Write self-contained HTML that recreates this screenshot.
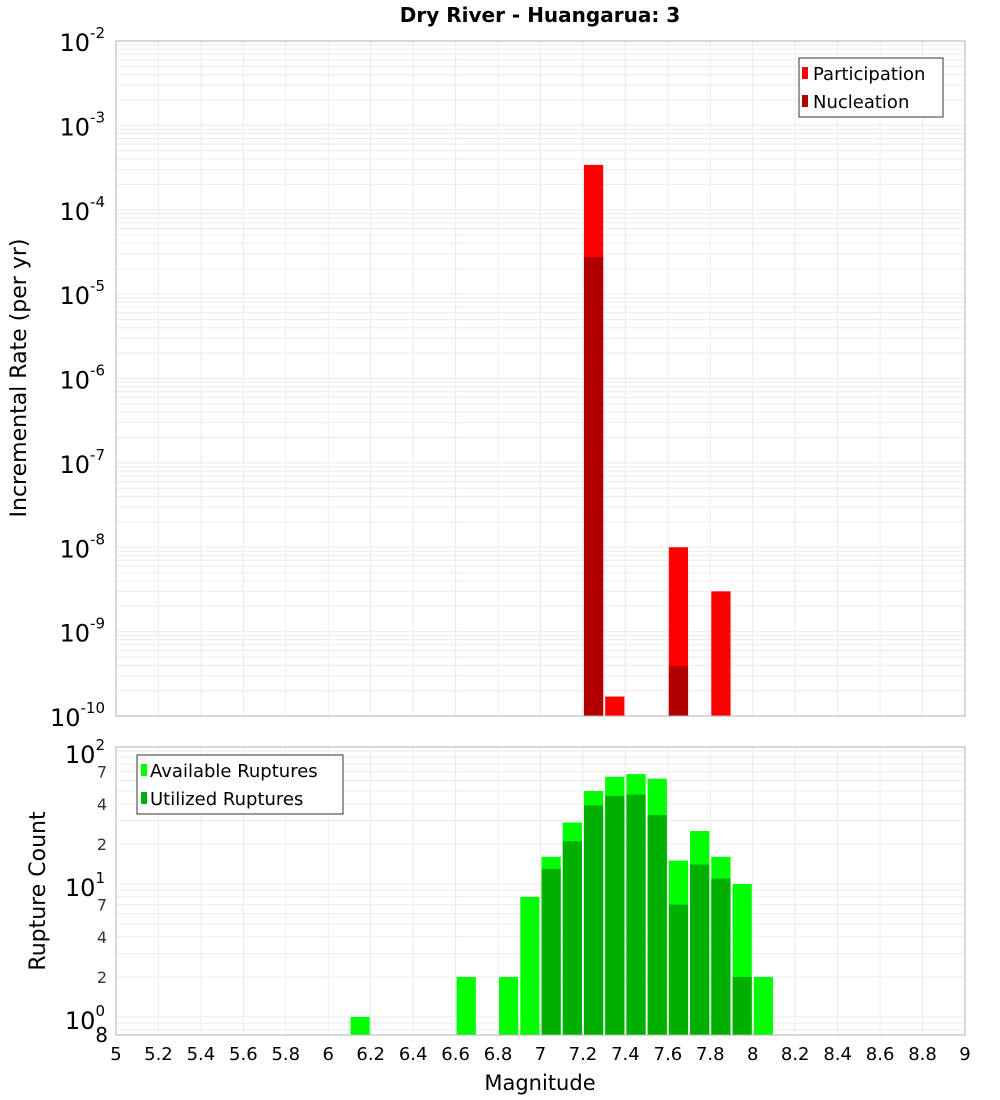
<!DOCTYPE html>
<html><head><meta charset="utf-8"><style>
body{margin:0;background:#fff;font-family:"Liberation Sans",sans-serif}
svg{display:block}
text{font-family:"DejaVu Sans","Liberation Sans",sans-serif}
</style></head><body>
<svg id="chart" width="1000" height="1100" xmlns="http://www.w3.org/2000/svg">
<text x="540" y="22" text-anchor="middle" font-size="20" font-weight="bold">Dry River - Huangarua: 3</text>
<g id="topG"></g><g id="botG"></g>
<text transform="translate(26,378) rotate(-90)" text-anchor="middle" font-size="22">Incremental Rate (per yr)</text>
<text transform="translate(45,891) rotate(-90)" text-anchor="middle" font-size="22">Rupture Count</text>
<text x="540" y="1090" text-anchor="middle" font-size="21">Magnitude</text>
</svg>
<script>
const rateMags=[7.25,7.35,7.65,7.85];
const participation=[3.4e-4,1.7e-10,1e-8,3e-9];
const nucleation=[2.75e-5,0,3.9e-10,0];
const countMags=[6.15,6.65,6.85,6.95,7.05,7.15,7.25,7.35,7.45,7.55,7.65,7.75,7.85,7.95,8.05];
const available=[1,2,2,8,16,29,50,64,67,62,15,25,16,10,2];
const utilized=[0,0,0,0,13,21,39,46,47,33,7,14,11,2,0];
const xTicks=[5,5.2,5.4,5.6,5.8,6,6.2,6.4,6.6,6.8,7,7.2,7.4,7.6,7.8,8,8.2,8.4,8.6,8.8,9];
const topDecades=[-2,-3,-4,-5,-6,-7,-8,-9,-10];
const botDecades=[2,1,0];
const botMinorLabels=[2,4,7];

const NS='http://www.w3.org/2000/svg';
const L=116,R=965;
const X=m=>L+(m-5)*(R-L)/4;
const T0=41,T1=716;
const YT=v=>T0+(-2-Math.log10(v))*(T1-T0)/8;
const B0=747,B1=1035,DEC=133,ONE=1017;
const YB=v=>ONE-Math.log10(v)*DEC;
function el(p,t,a){const e=document.createElementNS(NS,t);for(const k in a)e.setAttribute(k,a[k]);p.appendChild(e);return e;}
const topG=document.getElementById('topG'),botG=document.getElementById('botG');

for(let d=-10;d<-2;d++)for(let k=1;k<10;k++){const y=YT(k*Math.pow(10,d));if(y<T0||y>T1)continue;
 const g=el(topG,'line',{x1:L,x2:R,y1:y,y2:y,stroke:'#ebebeb','stroke-width':1});
 
 }
xTicks.forEach(m=>{const g=el(topG,'line',{x1:X(m),x2:X(m),y1:T0,y2:T1,stroke:'#ebebeb'});
 
 
 const h=el(botG,'line',{x1:X(m),x2:X(m),y1:B0,y2:B1,stroke:'#ebebeb'});
 
 });
const bw=(R-L)/40;
rateMags.forEach((m,i)=>{
 const x=X(m)-bw/2+1;
 if(participation[i]>0){const r=el(topG,'rect',{x:x,y:YT(participation[i]),width:bw-2,height:T1-YT(participation[i]),fill:'#ff0000'});
  
  }
 if(nucleation[i]>0){const r=el(topG,'rect',{x:x,y:YT(nucleation[i]),width:bw-2,height:T1-YT(nucleation[i]),fill:'#b20000'});
  
  }
});
const tf=el(topG,'rect',{x:L,y:T0,width:R-L,height:T1-T0,fill:'none',stroke:'#b0b0b0'});


topDecades.forEach(d=>{const y=YT(Math.pow(10,d));
 const t=el(topG,'text',{x:105,y:y+10,'text-anchor':'end','font-size':24});
 
 
 t.innerHTML='10<tspan dy="-13" font-size="15">'+d+'</tspan>';});
const lg=el(topG,'g',{});


el(lg,'rect',{x:799,y:58,width:144,height:59,fill:'#fff',stroke:'#333'});
el(lg,'rect',{x:802,y:67,width:6,height:12,fill:'#ff0000'});
el(lg,'rect',{x:802,y:95,width:6,height:12,fill:'#b20000'});
const t1=el(lg,'text',{x:813,y:80,'font-size':18});t1.textContent='Participation';
const t2=el(lg,'text',{x:813,y:108,'font-size':18});t2.textContent='Nucleation';

for(let d=-1;d<3;d++)for(let k=1;k<10;k++){const y=YB(k*Math.pow(10,d));if(y<B0||y>B1)continue;
 const g=el(botG,'line',{x1:L,x2:R,y1:y,y2:y,stroke:'#ebebeb'});
 
 }
countMags.forEach((m,i)=>{
 const x=X(m)-bw/2+1;
 const v=Math.min(available[i],107);
 const r=el(botG,'rect',{x:x,y:YB(v),width:bw-2,height:B1-YB(v),fill:'#00ff00'});
 
 
 if(utilized[i]>0){const u=el(botG,'rect',{x:x,y:YB(utilized[i]),width:bw-2,height:B1-YB(utilized[i]),fill:'#00b000'});
  
  }
});
const bf=el(botG,'rect',{x:L,y:B0,width:R-L,height:B1-B0,fill:'none',stroke:'#b0b0b0'});


botDecades.forEach(d=>{const y=YB(Math.pow(10,d));
 const t=el(botG,'text',{x:105,y:y+12,'text-anchor':'end','font-size':24});
 
 
 t.innerHTML='10<tspan dy="-13" font-size="15">'+d+'</tspan>';
 if(d<2)botMinorLabels.forEach(k=>{const yy=YB(k*Math.pow(10,d));
  const s=el(botG,'text',{x:107,y:yy+6,'text-anchor':'end','font-size':16,fill:'#333'});
  
  
  s.textContent=k;});
});
const e8=el(botG,'text',{x:108,y:1042,'text-anchor':'end','font-size':20});


e8.textContent='8';
xTicks.forEach(m=>{const t=el(botG,'text',{x:X(m),y:1060,'text-anchor':'middle','font-size':18});
 
 
 t.textContent=String(m);});
const bl=el(botG,'g',{});


el(bl,'rect',{x:137,y:755,width:206,height:59,fill:'#fff',stroke:'#333'});
el(bl,'rect',{x:141,y:764,width:6,height:12,fill:'#00ff00'});
el(bl,'rect',{x:141,y:792,width:6,height:12,fill:'#00b000'});
const b1=el(bl,'text',{x:150,y:777,'font-size':18});b1.textContent='Available Ruptures';
const b2=el(bl,'text',{x:150,y:805,'font-size':18});b2.textContent='Utilized Ruptures';
</script>
</body></html>
